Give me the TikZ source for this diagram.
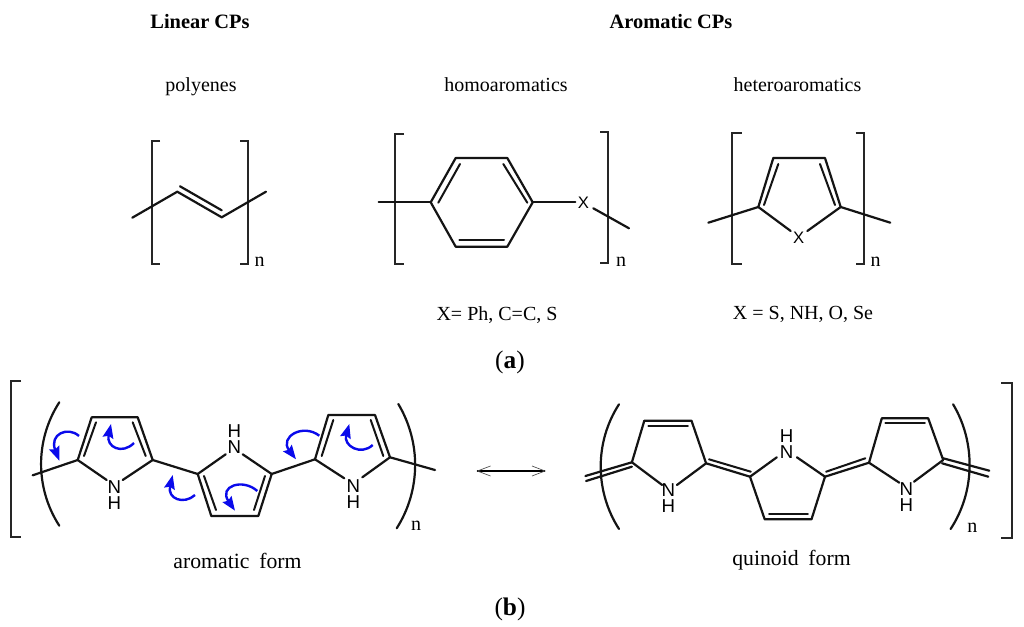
\documentclass[tikz,border=0pt]{standalone}
\usepackage{fontspec}
\setmainfont{Liberation Serif}
\newfontfamily\atomfont{Liberation Sans}
\usetikzlibrary{arrows.meta}
\definecolor{arrowblue}{RGB}{10,10,235}
\newcommand{\wordgap}{\spaceskip=0.45em\relax}
\tikzset{
  bond/.style={line width=1.65pt,line cap=round,line join=round,black!92},
  thinbond/.style={line width=1.5pt,line cap=round,black!92},
  brk/.style={line width=1.65pt,line cap=butt,line join=miter,black!85},
  lab/.style={inner sep=0pt,font=\fontsize{15}{18}\selectfont},
  biglab/.style={inner sep=0pt,font=\fontsize{16.3}{20}\selectfont},
  heading/.style={inner sep=0pt,font=\fontsize{15.3}{18}\selectfont\bfseries},
  panel/.style={inner sep=0pt,font=\fontsize{19}{22}\selectfont},
  sub/.style={inner sep=0pt,font=\fontsize{15}{16}\selectfont},
  atom/.style={inner sep=0pt,align=center,font=\fontsize{14}{12}\selectfont\atomfont},
  xatom/.style={inner sep=0pt,font=\fontsize{12.5}{14}\selectfont\atomfont},
  curly/.style={line width=1.8pt,arrowblue,-{Stealth[length=10.5pt,width=8pt,inset=1.5pt]}},
}
\begin{document}
\begin{tikzpicture}[x=0.75pt,y=-0.75pt]
\path[use as bounding box,fill=white] (0,0) rectangle (1024,627);
% --- headings
\node[heading] (h1) at (200,22) {Linear CPs};
\node[heading] (h2) at (671,22) {Aromatic CPs};
\node[lab] (t1) at (201,87) {polyenes};
\node[lab] (t2) at (506,85) {homoaromatics};
\node[lab] (t3) at (797.5,85) {heteroaromatics};
\node[lab] (t4) at (497,315) {X= Ph, C=C, S};
\node[lab] (t5) at (803,314) {X = S, NH, O, Se};
\node[panel] (pa) at (510,362) {(\textbf{a})};
\node[biglab] (t6) at (237.5,561) {\wordgap aromatic form};
\node[biglab] (t7) at (791.5,560) {\wordgap quinoid form};
\node[panel] (pb) at (510,609) {(\textbf{b})};
% --- polyene
\draw[brk] (160,140.7) -- (151.7,140.7) -- (151.7,264.3) -- (160,264.3);
\draw[brk] (240,140.7) -- (248,140.7) -- (248,264.3) -- (240,264.3);
\coordinate (pe0) at (132.3,217.7); \coordinate (pe1) at (177.3,191.7);
\coordinate (pe2) at (221.7,217.3); \coordinate (pe3) at (266,191.7);
\draw[bond] (pe0) -- (pe1) -- (pe2) -- (pe3);
\draw[bond] (180,186.3) -- (221.7,210.3);
\node[sub] (n1) at (259.5,261.5) {n};
% --- benzene
\draw[brk] (404,133.7) -- (395.3,133.7) -- (395.3,264.3) -- (404,264.3);
\draw[brk] (600,132) -- (608.3,132) -- (608.3,263.3) -- (600,263.3);
\coordinate (b1) at (430.7,202.3); \coordinate (b2) at (455.7,158);
\coordinate (b3) at (507.3,158); \coordinate (b4) at (532.7,202.3);
\coordinate (b5) at (507.3,246.7); \coordinate (b6) at (455.7,246.7);
\coordinate (b0) at (378.7,202.3); \coordinate (b9) at (629,228.3);
\draw[bond] (b1) -- (b2) -- (b3) -- (b4) -- (b5) -- (b6) -- cycle;
\draw[thinbond] (460,164) -- (438.3,202.7);
\draw[thinbond] (503.3,164) -- (527.3,202.7);
\draw[thinbond] (459.3,240.3) -- (504,240.3);
\node[xatom] (bx) at (583.5,203) {X};
\draw[bond] (b0) -- (b1);
\draw[bond] (b4) -- (575.3,202.3);
\draw[bond] (593.3,208.3) -- (b9);
\node[sub] (n2) at (621,261.5) {n};
% --- five-ring with X
\draw[brk] (741.7,133.3) -- (732.3,133.3) -- (732.3,264.3) -- (741.7,264.3);
\draw[brk] (855.7,133.3) -- (864,133.3) -- (864,264.3) -- (855.7,264.3);
\coordinate (t1a) at (758.3,207); \coordinate (t2a) at (773.3,158);
\coordinate (t3a) at (825,158); \coordinate (t4a) at (840.7,207);
\coordinate (t0a) at (708.3,222.7); \coordinate (t9a) at (890.3,222.7);
\node[xatom] (tx) at (798.7,237.5) {X};
\draw[bond] (t0a) -- (t1a) -- (t2a) -- (t3a) -- (t4a) -- (t9a);
\draw[bond] (t1a) -- (790.7,231);
\draw[bond] (t4a) -- (807.3,231);
\draw[thinbond] (778.3,164) -- (764,205);
\draw[thinbond] (820,164) -- (835,205);
\node[sub] (n3) at (875.7,261.5) {n};
% --- big brackets
\draw[brk] (21,381) -- (11,381) -- (11,536.7) -- (21,536.7);
\draw[brk] (1001,382.7) -- (1011.7,382.7) -- (1011.7,538.3) -- (1001,538.3);
% --- aromatic form
\draw[bond] (59.3,402.3) .. controls (35,440) and (35,488) .. (59.3,525.7);
\draw[bond] (398.3,404) .. controls (421,442) and (421,490) .. (396.7,528.3);
\coordinate (a0) at (32.7,475.3);
\coordinate (a1) at (77.7,460); \coordinate (a2) at (91.7,417.3);
\coordinate (a3) at (137.7,417.3); \coordinate (a4) at (152.7,460);
\coordinate (c1) at (197.7,474); \coordinate (c2) at (211.3,516);
\coordinate (c3) at (258.3,516); \coordinate (c4) at (271.7,474);
\coordinate (r1) at (315,459.3); \coordinate (r2) at (328.3,415);
\coordinate (r3) at (375,415); \coordinate (r4) at (390,457.3);
\coordinate (r9) at (435,470);
\draw[bond] (a0) -- (a1) -- (a2) -- (a3) -- (a4) -- (c1) -- (c2) -- (c3) -- (c4) -- (r1) -- (r2) -- (r3) -- (r4) -- (r9);
\node[atom] (an1) at (114.3,495.5) {N\\H};
\node[atom] (an2) at (234.3,439.5) {H\\N};
\node[atom] (an3) at (353.3,494) {N\\H};
\draw[bond] (a1) -- (106.7,480); \draw[bond] (a4) -- (122.7,480);
\draw[bond] (c1) -- (225.7,454.3); \draw[bond] (c4) -- (242.7,454.3);
\draw[bond] (r1) -- (344.3,478.3); \draw[bond] (r4) -- (362.3,477.3);
\draw[thinbond] (96,422.3) -- (84,456);
\draw[thinbond] (132.7,422.3) -- (145.7,456);
\draw[thinbond] (204,476) -- (216,510);
\draw[thinbond] (265,476) -- (254,510);
\draw[thinbond] (333.3,420) -- (321.7,456);
\draw[thinbond] (370.7,420) -- (383.3,456);
\node[sub] (n4) at (416,526) {n};
% --- curly arrows
\draw[curly] (79,436) .. controls (68,426) and (49,434) .. (59.3,460.7);
\draw[curly] (134,443) .. controls (122,455) and (106,447) .. (111,424);
\draw[curly] (195,495) .. controls (184,505) and (167,499) .. (172.7,475);
\draw[curly] (257.3,491) .. controls (243,478) and (218,486) .. (235,510.7);
\draw[curly] (319.3,435.7) .. controls (303,423) and (279,437) .. (296,459.3);
\draw[curly] (372.7,445) .. controls (361,456) and (343,446) .. (349.3,424);
% --- resonance arrow
\coordinate (ra) at (477.4,471); \coordinate (rb) at (545,471);
\draw[line width=0.9pt,black] (ra) -- (rb);
\draw[line width=0.5pt,black!70] (490.5,466) -- (ra) -- (490.5,476);
\draw[line width=0.5pt,black!70] (532,466) -- (rb) -- (532,476);
% --- quinoid form
\draw[bond] (619,404.3) .. controls (594.6,442) and (594.6,491) .. (619,529);
\draw[bond] (953.1,404.3) .. controls (975.5,442) and (975.5,491) .. (950.6,529);
\coordinate (q1) at (631.9,462.3); \coordinate (q2) at (644.3,420.7);
\coordinate (q3) at (691.5,420.7); \coordinate (q4) at (706.1,463.3);
\coordinate (m1) at (750,476.7); \coordinate (m2) at (764.7,519.3);
\coordinate (m3) at (811.5,519.3); \coordinate (m4) at (825,476.7);
\coordinate (s1) at (869,462.7); \coordinate (s2) at (881.8,418.3);
\coordinate (s3) at (928.2,418.3); \coordinate (s4) at (943.2,460);
\node[atom] (qn1) at (668.4,498.3) {N\\H};
\node[atom] (qn2) at (786.6,443.8) {H\\N};
\node[atom] (qn3) at (906.3,496.7) {N\\H};
\draw[bond] (q1) -- (q2) -- (q3) -- (q4) -- (m1) -- (m2) -- (m3) -- (m4) -- (s1) -- (s2) -- (s3) -- (s4);
\draw[bond] (585.4,476) -- (q1);
\draw[bond] (586.1,481) -- (631.9,466.7);
\draw[bond] (q1) -- (662.2,485); \draw[bond] (q4) -- (676.9,485);
\draw[bond] (m1) -- (776.8,457.3); \draw[bond] (m4) -- (796.9,457.3);
\draw[bond] (s1) -- (899.3,482.7); \draw[bond] (s4) -- (914,481.7);
\draw[thinbond] (648.3,426) -- (687.8,426);
\draw[thinbond] (709,459.3) -- (750.8,471.7);
\draw[thinbond] (769,514) -- (807.9,514);
\draw[thinbond] (826.1,471.7) -- (865.3,458.3);
\draw[thinbond] (885.4,423.3) -- (924.9,423.3);
\draw[bond] (943.2,458.3) -- (989.3,470.7);
\draw[bond] (942.1,463.3) -- (988.3,476.7);
\node[sub] (n5) at (972.3,528) {n};
\end{tikzpicture}
\end{document}
